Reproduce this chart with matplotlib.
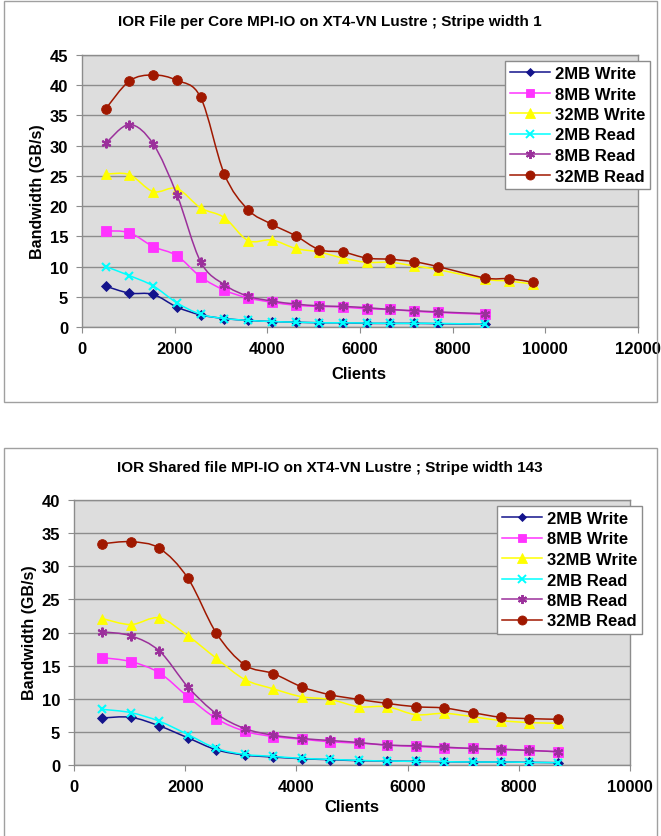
import numpy as np
import matplotlib
matplotlib.use('Agg')
import matplotlib.pyplot as plt
from matplotlib.path import Path
from matplotlib.patches import PathPatch, Rectangle
from matplotlib.lines import Line2D

plt.rcParams['font.family'] = ['Liberation Sans', 'DejaVu Sans']
plt.rcParams['font.weight'] = 'bold'

series_names = ['2MB Write', '8MB Write', '32MB Write', '2MB Read', '8MB Read', '32MB Read']

# top chart: file per core, stripe width 1
top_clients_long = [512, 1024, 1536, 2048, 2560, 3072, 3584, 4096, 4608, 5120,
                    5632, 6144, 6656, 7168, 7680, 8704, 9216, 9728]
top_clients_short = [512, 1024, 1536, 2048, 2560, 3072, 3584, 4096, 4608, 5120,
                     5632, 6144, 6656, 7168, 7680, 8704]
top_2mb_write = [6.75, 5.6, 5.4, 3.3, 2.0, 1.4, 1.1, 0.9, 0.8, 0.7, 0.7, 0.6, 0.6, 0.6, 0.55, 0.45]
top_8mb_write = [15.9, 15.6, 13.3, 11.8, 8.3, 6.1, 4.8, 4.1, 3.6, 3.4, 3.3, 3.0, 2.9, 2.6, 2.4, 2.1]
top_32mb_write = [25.3, 25.2, 22.4, 22.9, 19.7, 18.1, 14.3, 14.4, 13.0, 12.4, 11.4, 10.7, 10.7,
                  10.1, 9.5, 7.9, 7.6, 7.1]
top_2mb_read = [10.0, 8.5, 6.8, 4.0, 2.1, 1.4, 1.1, 0.9, 0.8, 0.7, 0.7, 0.65, 0.6, 0.6, 0.6, 0.45]
top_8mb_read = [30.4, 33.5, 30.3, 21.9, 10.8, 7.0, 5.1, 4.3, 3.8, 3.5, 3.4, 3.2, 2.9, 2.7, 2.5, 2.2]
top_32mb_read = [36.1, 40.7, 41.7, 40.8, 38.0, 25.3, 19.4, 17.0, 15.1, 12.8, 12.4, 11.4, 11.2,
                 10.8, 10.0, 8.1, 8.0, 7.4]

# bottom chart: shared file, stripe width 143
bot_clients = [512, 1024, 1536, 2048, 2560, 3072, 3584, 4096, 4608, 5120,
               5632, 6144, 6656, 7168, 7680, 8192, 8704]
bot_2mb_write = [7.1, 7.2, 5.9, 4.1, 2.3, 1.5, 1.2, 0.95, 0.8, 0.65, 0.6, 0.55, 0.5, 0.45, 0.45, 0.4, 0.35]
bot_8mb_write = [16.2, 15.6, 13.9, 10.3, 7.0, 5.1, 4.3, 3.9, 3.5, 3.3, 3.0, 2.8, 2.6, 2.5, 2.3, 2.2, 2.0]
bot_32mb_write = [22.1, 21.2, 22.2, 19.5, 16.1, 12.9, 11.5, 10.3, 9.9, 8.8, 8.8, 7.6, 7.8, 7.3, 6.7, 6.4, 6.3]
bot_2mb_read = [8.4, 7.9, 6.6, 4.6, 2.5, 1.6, 1.3, 1.0, 0.85, 0.7, 0.6, 0.55, 0.5, 0.45, 0.45, 0.4, 0.35]
bot_8mb_read = [20.1, 19.5, 17.2, 11.8, 7.75, 5.5, 4.5, 4.0, 3.7, 3.4, 3.0, 2.9, 2.7, 2.5, 2.4, 2.2, 2.0]
bot_32mb_read = [33.4, 33.7, 32.7, 28.2, 19.9, 15.1, 13.8, 11.8, 10.6, 9.9, 9.3, 8.8, 8.6, 7.9, 7.2, 7.0, 6.9]

colors = ['#14148C', '#FF33FF', '#FFFF00', '#00FFFF', '#9B309B', '#A01800']
markers = ['D', 's', '^', 'x', (6, 2, 0), 'o']
msizes = [4.8, 6.5, 7.5, 6, 7, 7]


def smooth_path(xs, ys):
    # excel style smoothed line: cubic bezier segments through the points
    pts = np.column_stack([xs, ys]).astype(float)
    verts = [pts[0]]
    codes = [Path.MOVETO]
    n = len(pts)
    for i in range(n - 1):
        p0 = pts[i - 1] if i > 0 else pts[i]
        p1 = pts[i]
        p2 = pts[i + 1]
        p3 = pts[i + 2] if i + 2 < n else pts[i + 1]
        verts += [p1 + (p2 - p0) / 6.0, p2 - (p3 - p1) / 6.0, p2]
        codes += [Path.CURVE4] * 3
    return Path(verts, codes)


def draw_chart(ax, xs_list, ys_list, ymax, ystep, xmax):
    ax.set_facecolor('#DDDDDD')
    for i, (xs, ys) in enumerate(zip(xs_list, ys_list)):
        ax.add_patch(PathPatch(smooth_path(xs, ys), facecolor='none',
                               edgecolor=colors[i], lw=1.1, zorder=3 + i))
        ax.plot(xs, ys, ls='none', marker=markers[i], ms=msizes[i], color=colors[i],
                mec=colors[i], mew=1.5 if i in (3, 4) else 0.6, zorder=3 + i)
    ax.set_xlim(0, xmax)
    ax.set_ylim(0, ymax)
    ax.set_yticks(np.arange(0, ymax + 1, ystep))
    ax.set_xticks(np.arange(0, xmax + 1, 2000))
    ax.yaxis.grid(True, color='#8C8C8C', lw=1.0)
    ax.set_axisbelow(True)
    for s in ax.spines.values():
        s.set_color('#8C8C8C')
        s.set_linewidth(1.0)
    ax.tick_params(axis='both', direction='out', length=4, color='#8C8C8C',
                   labelsize=12, pad=6)
    for lab in ax.get_xticklabels() + ax.get_yticklabels():
        lab.set_fontweight('bold')


W, H = 661, 837
fig = plt.figure(figsize=(W / 100, H / 100), dpi=100)


def fx(px):
    return px / W


def fy(py):
    return 1 - py / H


# outer boxes
fig.patches.append(Rectangle((fx(4), fy(403)), fx(653), 401 / H, transform=fig.transFigure,
                             fill=False, edgecolor='#A0A0A0', lw=1.0))
fig.patches.append(Rectangle((fx(4), fy(840)), fx(653), 391 / H, transform=fig.transFigure,
                             fill=False, edgecolor='#A0A0A0', lw=1.0))

ax1 = fig.add_axes([fx(82), fy(328), fx(556), 272 / H])
draw_chart(ax1,
           [top_clients_short, top_clients_short, top_clients_long,
            top_clients_short, top_clients_short, top_clients_long],
           [top_2mb_write, top_8mb_write, top_32mb_write,
            top_2mb_read, top_8mb_read, top_32mb_read],
           45, 5, 12000)

ax2 = fig.add_axes([fx(74), fy(766), fx(556), 265 / H])
draw_chart(ax2,
           [bot_clients] * 6,
           [bot_2mb_write, bot_8mb_write, bot_32mb_write,
            bot_2mb_read, bot_8mb_read, bot_32mb_read],
           40, 5, 10000)

fig.text(fx(330), fy(22), 'IOR File per Core MPI-IO on XT4-VN Lustre ; Stripe width 1',
         ha='center', va='center', fontsize=11, fontweight='bold')
fig.text(fx(330), fy(468), 'IOR Shared file MPI-IO on XT4-VN Lustre ; Stripe width 143',
         ha='center', va='center', fontsize=11, fontweight='bold')
fig.text(fx(38), fy(192), 'Bandwidth (GB/s)', rotation=90, ha='center', va='center',
         fontsize=11.5, fontweight='bold')
fig.text(fx(30), fy(633), 'Bandwidth (GB/s)', rotation=90, ha='center', va='center',
         fontsize=11.5, fontweight='bold')
fig.text(fx(359), fy(375), 'Clients', ha='center', va='center', fontsize=12, fontweight='bold')
fig.text(fx(352), fy(808), 'Clients', ha='center', va='center', fontsize=12, fontweight='bold')

handles = [Line2D([], [], color=colors[i], lw=1.1, marker=markers[i], ms=msizes[i] - 0.5,
                  mew=1.4 if i in (3, 4) else 0.6) for i in range(6)]
for ax, (lx, ly) in ((ax1, (505, 62)), (ax2, (497, 507))):
    leg = ax.legend(handles, series_names, loc='upper left',
                    bbox_to_anchor=(fx(lx), fy(ly)), bbox_transform=fig.transFigure,
                    borderaxespad=0, fancybox=False, framealpha=1, edgecolor='#8C8C8C',
                    prop={'size': 12, 'weight': 'bold'}, handlelength=2.4,
                    handletextpad=0.3, labelspacing=0.33, borderpad=0.3)
    leg.get_frame().set_linewidth(1.0)
    leg.set_zorder(20)

fig.savefig('out.png', dpi=100)
